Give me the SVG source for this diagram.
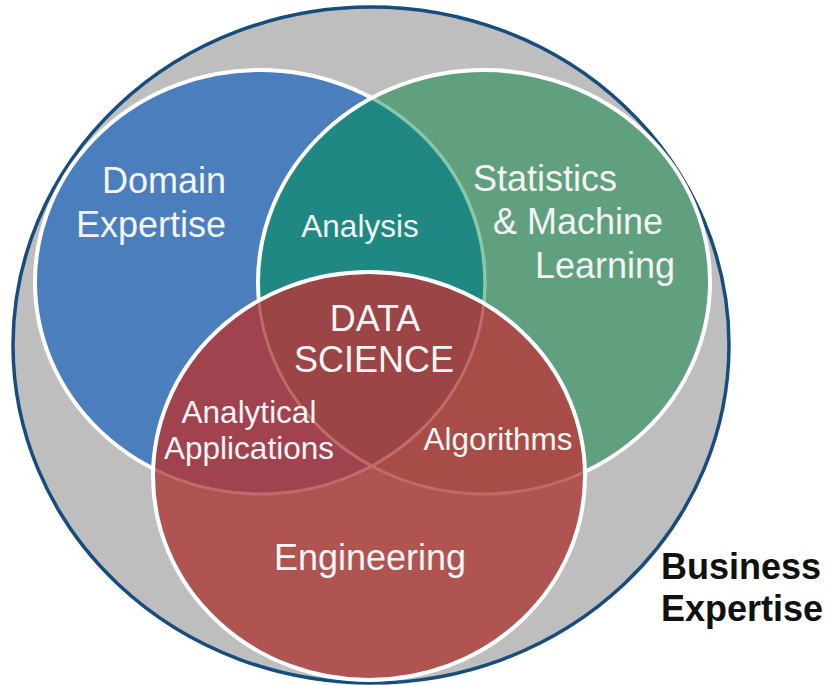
<svg xmlns="http://www.w3.org/2000/svg" width="827" height="685" viewBox="0 0 827 685">
<style>
.lbl{font-family:"Liberation Sans",Arial,sans-serif;fill:#F4F4F4}
.big{font-size:36px}
.mid{font-size:31.5px}
.biz{font-family:"Liberation Sans",Arial,sans-serif;font-weight:bold;font-size:36px;fill:#111111}
.wb{fill:none;stroke:#FFFFFF;stroke-width:4}
</style>
<defs>
<clipPath id="cBlue"><ellipse cx="260" cy="282" rx="225" ry="212"/></clipPath>
<clipPath id="cGreen"><ellipse cx="484" cy="282" rx="226" ry="212"/></clipPath>
<clipPath id="cRed"><ellipse cx="369" cy="476" rx="216" ry="204"/></clipPath>
</defs>
<rect width="827" height="685" fill="#FFFFFF"/>
<g id="business">
<ellipse cx="371" cy="345" rx="358" ry="338" fill="#BEBEBE" stroke="#174C7E" stroke-width="3.5"/>
<text class="biz" x="661" y="579">Business</text>
<text class="biz" x="661" y="621">Expertise</text>
</g>
<g id="domain">
<ellipse cx="260" cy="282" rx="225" ry="212" fill="#4A7EBD"/>
<ellipse class="wb" cx="260" cy="282" rx="225" ry="212"/>
</g>
<g id="statistics">
<ellipse cx="484" cy="282" rx="226" ry="212" fill="#60A07E"/>
</g>
<g id="analysis">
<ellipse cx="260" cy="282" rx="225" ry="212" fill="#1F8882" clip-path="url(#cGreen)"/>
<ellipse cx="260" cy="282" rx="225" ry="212" fill="none" stroke="#8CC6A8" stroke-width="3.5" clip-path="url(#cGreen)"/>
<ellipse class="wb" cx="484" cy="282" rx="226" ry="212"/>
</g>
<g id="engineering">
<ellipse cx="369" cy="476" rx="216" ry="204" fill="#B05452"/>
</g>
<g id="analytical-applications">
<ellipse cx="260" cy="282" rx="225" ry="212" fill="#A0434F" clip-path="url(#cRed)"/>
</g>
<g id="algorithms">
<ellipse cx="484" cy="282" rx="226" ry="212" fill="#A84C47" clip-path="url(#cRed)"/>
</g>
<g id="data-science">
<g clip-path="url(#cRed)"><g clip-path="url(#cGreen)">
<ellipse cx="260" cy="282" rx="225" ry="212" fill="#9B4546"/>
</g></g>
<g clip-path="url(#cRed)">
<ellipse cx="260" cy="282" rx="225" ry="212" fill="none" stroke="#C26A6C" stroke-width="3"/>
<ellipse cx="484" cy="282" rx="226" ry="212" fill="none" stroke="#C26A66" stroke-width="3"/>
</g>
<ellipse class="wb" cx="369" cy="476" rx="216" ry="204"/>
</g>
<g id="labels">
<text class="lbl big" x="226" y="193" text-anchor="end">Domain</text>
<text class="lbl big" x="226" y="237" text-anchor="end">Expertise</text>
<text class="lbl big" x="473" y="191">Statistics</text>
<text class="lbl big" x="493" y="234">&amp; Machine</text>
<text class="lbl big" x="535" y="278">Learning</text>
<text class="lbl mid" x="360" y="237" text-anchor="middle">Analysis</text>
<text class="lbl big" x="375" y="331" text-anchor="middle">DATA</text>
<text class="lbl big" x="374" y="372" text-anchor="middle">SCIENCE</text>
<text class="lbl mid" x="249" y="423" text-anchor="middle">Analytical</text>
<text class="lbl mid" x="249" y="459" text-anchor="middle">Applications</text>
<text class="lbl mid" x="498" y="450" text-anchor="middle">Algorithms</text>
<text class="lbl big" x="370" y="570" text-anchor="middle">Engineering</text>
</g>
<g id="connectors"/>
</svg>
